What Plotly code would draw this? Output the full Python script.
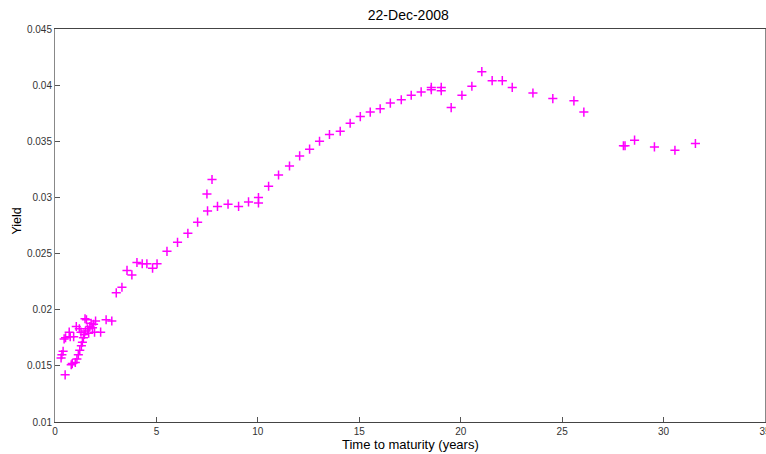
import plotly.graph_objects as go

maturity = [0.30, 0.34, 0.40, 0.45, 0.50, 0.52, 0.70, 0.75, 0.80, 0.85, 0.92, 1.00, 1.05, 1.08,
            1.15, 1.20, 1.22, 1.28, 1.30, 1.35, 1.40, 1.45, 1.48, 1.50, 1.55, 1.60, 1.66, 1.72,
            1.78, 1.85, 1.90, 1.95, 2.00, 2.25, 2.52, 2.80, 3.02, 3.30, 3.55, 3.79, 4.04, 4.30,
            4.53, 4.81, 5.03, 5.52, 6.04, 6.55, 7.03, 7.49, 7.52, 7.74, 8.01, 8.53, 9.05, 9.54,
            10.03, 10.03, 10.53, 11.02, 11.56, 12.06, 12.55, 13.04, 13.53, 14.06, 14.55, 15.05,
            15.54, 16.03, 16.53, 17.07, 17.56, 18.05, 18.55, 18.55, 19.04, 19.04, 19.53, 20.06,
            20.55, 21.04, 21.55, 22.05, 22.54, 23.56, 24.54, 25.58, 26.07, 28.02, 28.10, 28.57,
            29.55, 30.56, 31.57]
yields = [0.0157, 0.0160, 0.0163, 0.0174, 0.0142, 0.0175, 0.0180, 0.0176, 0.0151, 0.0152, 0.0176,
          0.0153, 0.0185, 0.0156, 0.0160, 0.0183, 0.0164, 0.0180, 0.0168, 0.0171, 0.0175, 0.0178,
          0.0192, 0.0181, 0.0191, 0.0183, 0.0179, 0.0185, 0.0188, 0.0184, 0.0187, 0.0180, 0.0190,
          0.0180, 0.0191, 0.0190, 0.0215, 0.0220, 0.0235, 0.0231, 0.0242, 0.0241, 0.0241, 0.0237,
          0.0241, 0.0252, 0.0260, 0.0268, 0.0278, 0.0303, 0.0288, 0.0316, 0.0292, 0.0294, 0.0292,
          0.0296, 0.0300, 0.0295, 0.0310, 0.0320, 0.0328, 0.0337, 0.0343, 0.0350, 0.0356, 0.0359,
          0.0366, 0.0372, 0.0376, 0.0379, 0.0384, 0.0387, 0.0391, 0.0394, 0.0398, 0.0396, 0.0398,
          0.0395, 0.0380, 0.0391, 0.0399, 0.0412, 0.0404, 0.0404, 0.0398, 0.0393, 0.0388, 0.0386,
          0.0376, 0.0346, 0.0346, 0.0351, 0.0345, 0.0342, 0.0348]

x_ticks = [0, 5, 10, 15, 20, 25, 30, 35]
y_ticks = [0.01, 0.015, 0.02, 0.025, 0.03, 0.035, 0.04, 0.045]
y_labels = ["0.01", "0.015", "0.02", "0.025", "0.03", "0.035", "0.04", "0.045"]

FONT = "Liberation Sans, Arial, sans-serif"

fig = go.Figure()
fig.add_trace(go.Scatter(
    x=maturity, y=yields, mode="markers",
    marker=dict(symbol="cross-thin", size=6.5, color="#ff00ff",
                line=dict(color="#ff00ff", width=1.5)),
    showlegend=False,
))

axis_font = dict(family=FONT, size=10, color="#333333")
fig.update_layout(
    width=766, height=454,
    margin=dict(l=55, r=1, t=29, b=32, autoexpand=False),
    paper_bgcolor="white", plot_bgcolor="white",
    title=dict(text="22-Dec-2008", x=0.533, xanchor="center", y=0.967, yanchor="middle",
               font=dict(family=FONT, size=14, color="black")),
    xaxis=dict(range=[0, 35], tickvals=x_ticks, ticks="inside", ticklen=5, tickcolor="#555555",
               showgrid=False, zeroline=False, showline=True, linecolor="#444444", linewidth=1,
               mirror=True, tickfont=axis_font, ticklabeloverflow="allow", automargin=False),
    yaxis=dict(range=[0.01, 0.045], tickvals=y_ticks, ticktext=y_labels, ticks="inside", ticklen=5,
               tickcolor="#555555", showgrid=False, zeroline=False, showline=True,
               linecolor="#888888", linewidth=1, mirror=True, tickfont=axis_font, automargin=False),
    annotations=[
        dict(text="Time to maturity (years)", xref="paper", yref="paper", x=0.5, y=-0.056,
             xanchor="center", yanchor="middle", showarrow=False,
             font=dict(family=FONT, size=13, color="black")),
        dict(text="Yield", xref="paper", yref="paper", x=-0.0535, y=0.51, textangle=-90,
             xanchor="center", yanchor="middle", showarrow=False,
             font=dict(family=FONT, size=12.5, color="black")),
    ],
)

fig.write_html("out.html")
